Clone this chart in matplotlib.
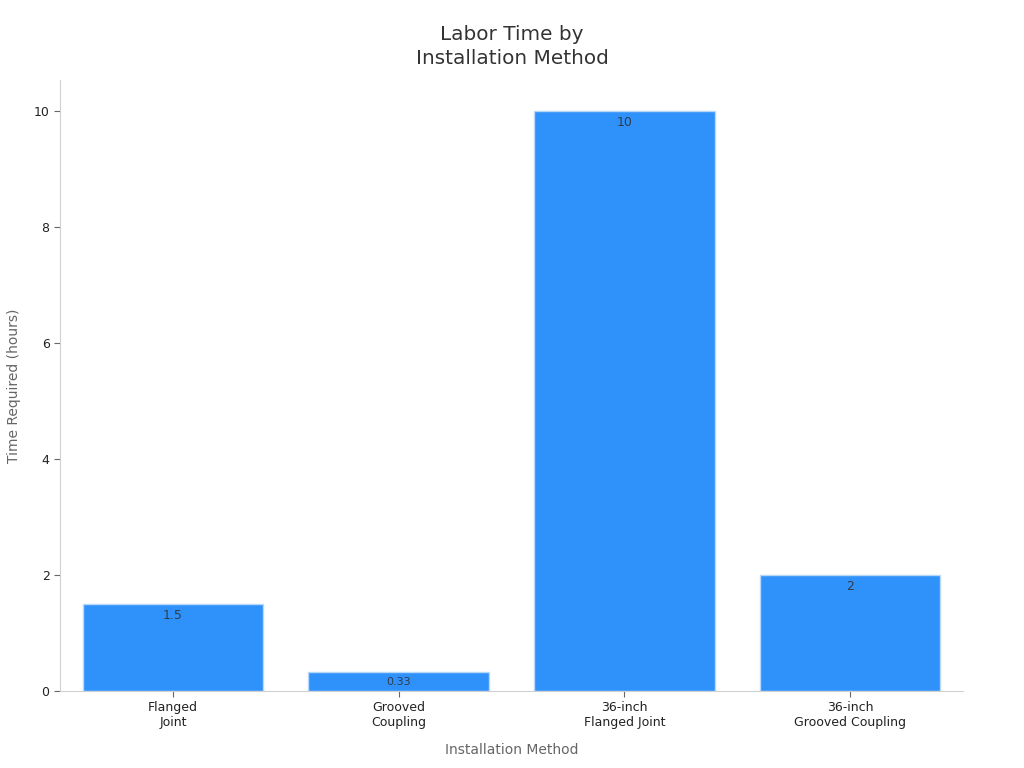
import matplotlib
matplotlib.use("Agg")
import matplotlib.pyplot as plt

categories = ["Flanged\nJoint", "Grooved\nCoupling", "36-inch\nFlanged Joint", "36-inch\nGrooved Coupling"]
values = [1.5, 0.33, 10, 2]
labels = ["1.5", "0.33", "10", "2"]
yticks = [0, 2, 4, 6, 8, 10]

fig = plt.figure(figsize=(10.24, 7.68), dpi=100)
ax = fig.add_axes([0.0586, 0.1003, 0.8818, 0.7955])

x = list(range(len(categories)))
bars = ax.bar(x, values, width=0.8, color="#2f92fa", edgecolor="#b8d8fb", linewidth=1)

for i, (v, lab) in enumerate(zip(values, labels)):
    fs = 8 if v < 1 else 9
    ax.annotate(lab, (i, v), xytext=(0, -4), textcoords="offset points",
                ha="center", va="top", fontsize=fs, color="#333b4a")

ax.set_xlim(-0.5, 3.5)
ax.set_ylim(0, 10.53)
ax.set_xticks(x)
ax.set_xticklabels(categories, fontsize=9, color="#222222")
ax.set_yticks(yticks)
ax.set_yticklabels([str(t) for t in yticks], fontsize=9, color="#222222")

for s in ["top", "right"]:
    ax.spines[s].set_visible(False)
for s in ["left", "bottom"]:
    ax.spines[s].set_color("#d0d0d0")
ax.tick_params(axis="both", colors="#666666", length=4, labelcolor="#222222")

ax.set_xlabel("Installation Method", fontsize=10, color="#666666", labelpad=10)
ax.set_ylabel("Time Required (hours)", fontsize=10, color="#666666", labelpad=9)
fig.suptitle("Labor Time by\nInstallation Method", fontsize=14.4, color="#333333", y=0.967,
             linespacing=1.3)

fig.savefig("out.png", dpi=100)
